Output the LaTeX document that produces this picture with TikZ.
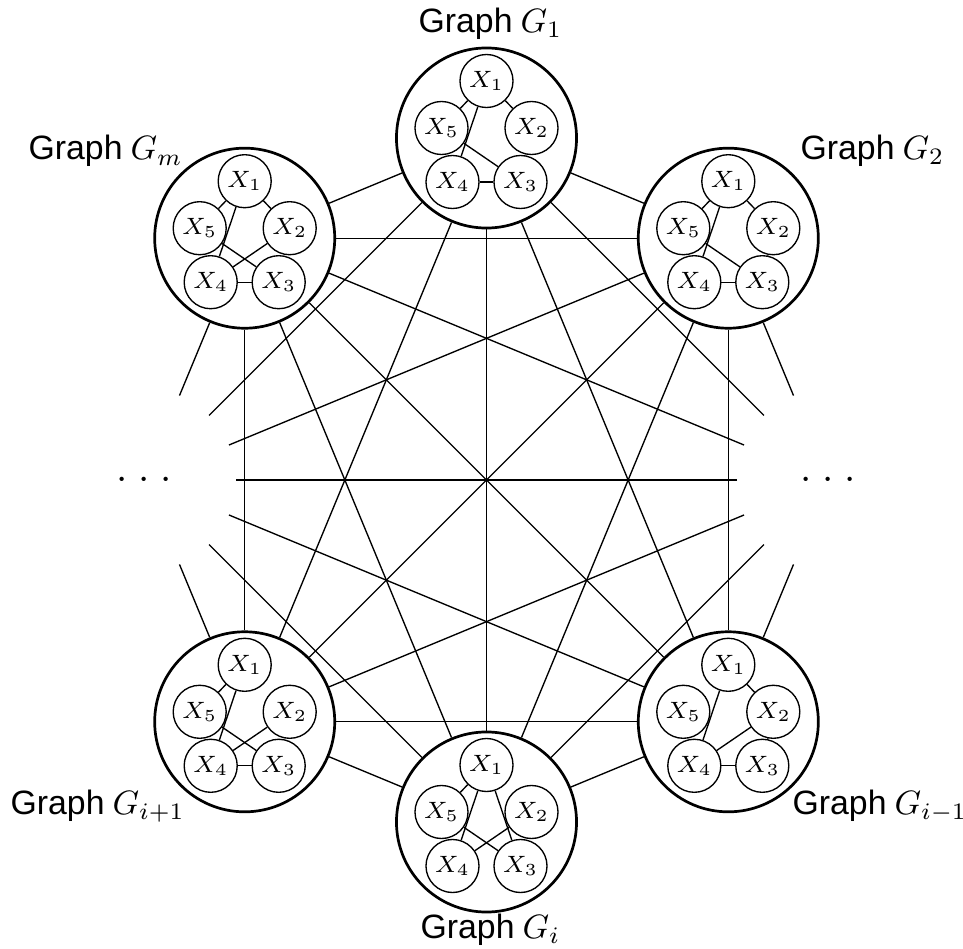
\documentclass[tikz,border=0pt]{standalone}
\usepackage{fontspec}
\newfontfamily\labelfont{Liberation Sans}
\usetikzlibrary{calc}

\tikzset{
  biggraph/.style={circle, draw, thick, minimum size=53.3pt, inner sep=0pt},
  hiddengraph/.style={circle, minimum size=53.3pt, inner sep=0pt, outer sep=0.4pt, font=\large},
  var/.style={circle, draw, minimum size=15.7pt, inner sep=0pt, font=\scriptsize},
  glabel/.style={anchor=base west, inner sep=0pt, font=\labelfont},
}

% five variable nodes inside one graph node
\newcommand\varnodes[1]{%
  \node[var] (#1-1) at ($(#1)+(0,-57)$) {$X_1$};
  \node[var] (#1-2) at ($(#1)+(45,-10)$) {$X_2$};
  \node[var] (#1-3) at ($(#1)+(34,44)$) {$X_3$};
  \node[var] (#1-4) at ($(#1)+(-34,44)$) {$X_4$};
  \node[var] (#1-5) at ($(#1)+(-45,-10)$) {$X_5$};
}
% graph caption: sans text followed by the math name
\newcommand\gcap[1]{Graph\kern2.4pt$#1$}
\newcommand\hdots{${\cdot}\kern3.15pt{\cdot}\kern3.15pt{\cdot}$}

\begin{document}
\begin{tikzpicture}[x=0.296pt, y=-0.296pt]
\useasboundingbox (0,0) rectangle (963,949);

% the eight graphs sit on a regular octagon around (486.5,480)
\node[biggraph]    (g1)  at (486.5,138)   {};
\node[biggraph]    (g2)  at (728.3,238.2) {};
\node[hiddengraph] (r)   at (828.5,480)   {\hdots};
\node[biggraph]    (gim) at (728.3,721.8) {};
\node[biggraph]    (gi)  at (486.5,822)   {};
\node[biggraph]    (gip) at (244.7,721.8) {};
\node[hiddengraph] (l)   at (144.5,480)   {\hdots};
\node[biggraph]    (gm)  at (244.7,238.2) {};

% complete graph between the eight graphs
\foreach \a [count=\i] in {g1,g2,r,gim,gi,gip,l,gm}{
  \foreach \b [count=\j] in {g1,g2,r,gim,gi,gip,l,gm}{
    \ifnum\j>\i \draw (\a) -- (\b); \fi
  }
}

% variables inside each graph
\varnodes{g1}
\varnodes{g2}
\varnodes{gm}
\varnodes{gip}
\varnodes{gim}
\varnodes{gi}

\foreach \a/\b in {1/5,1/2,1/4,5/3,2/3,4/3}{
  \draw (g1-\a) -- (g1-\b);
  \draw (g2-\a) -- (g2-\b);
}
\foreach \a/\b in {1/5,1/2,1/4,5/3,2/4,4/3}
  \draw (gm-\a) -- (gm-\b);
\foreach \a/\b in {1/5,1/4,5/3,2/4,4/3}
  \draw (gip-\a) -- (gip-\b);
\foreach \a/\b in {1/2,1/4,2/4,2/3,4/3}
  \draw (gim-\a) -- (gim-\b);
\foreach \a/\b in {1/5,1/4,1/3,5/3,2/4}
  \draw (gi-\a) -- (gi-\b);

% captions
\node[glabel] (lg1)  at (418,32)  {\gcap{G_1}};
\node[glabel] (lg2)  at (800,159) {\gcap{G_2}};
\node[glabel] (lgm)  at (28,160)  {\gcap{G_m}};
\node[glabel] (lgip) at (10,814)  {\gcap{G_{i+1}}};
\node[glabel] (lgim) at (792,814) {\gcap{G_{i-1}}};
\node[glabel] (lgi)  at (420,938) {\gcap{G_i}};
\end{tikzpicture}
\end{document}
